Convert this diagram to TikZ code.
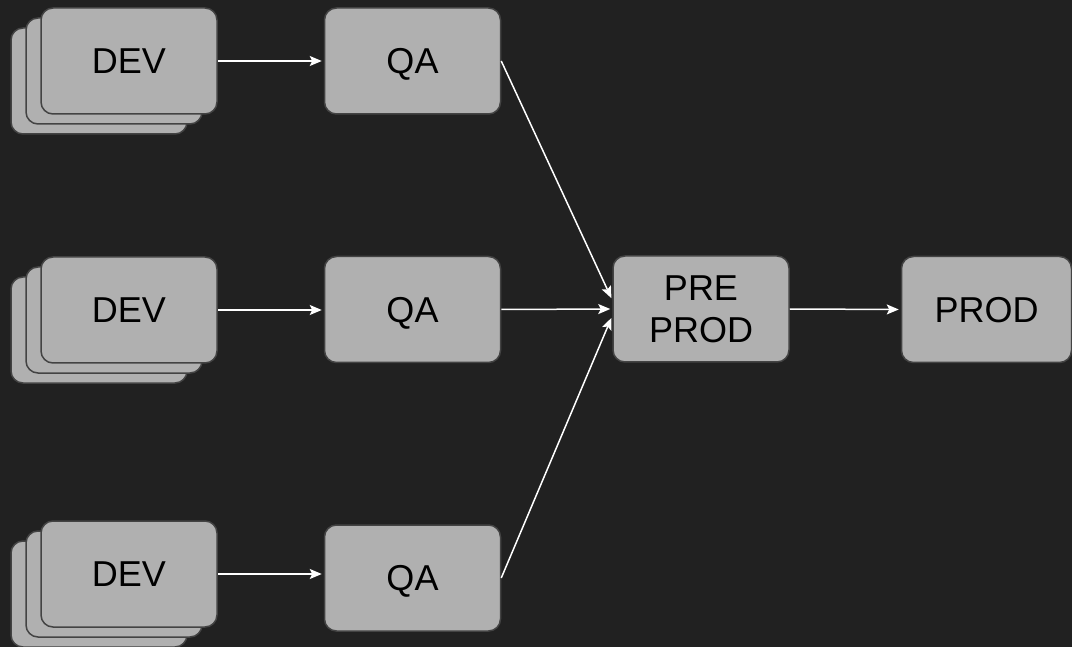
\documentclass[tikz,border=0pt]{standalone}
\usepackage{fontspec}
\setmainfont{Liberation Sans}
\usetikzlibrary{arrows.meta}
\definecolor{bg}{HTML}{212121}
\definecolor{boxfill}{HTML}{B0B0B0}
\definecolor{boxline}{HTML}{434343}
\begin{document}
\begin{tikzpicture}[x=1pt,y=-1pt,
  stage/.style={draw=boxline, fill=boxfill, line width=1.5pt, rounded corners=12pt,
    minimum width=176pt, minimum height=106pt, inner sep=0pt, align=center,
    font=\fontsize{36}{42}\selectfont, text=black},
  capsonly/.style={text height=25.8pt, text depth=0pt},
  flow/.style={draw=white, line width=1.5pt, shorten >=2pt,
    -{Stealth[length=12pt,width=10pt,inset=2.5pt]}}]
  \fill[bg] (0,0) rectangle (1072,647);
  \useasboundingbox (0,0) rectangle (1072,647);

  % stacked DEV boxes: three layers, the front one carries the label
  \foreach \r/\cy in {1/61, 2/310, 3/574} {
    \node[stage] (devb\r) at (99,\cy+20) {};
    \node[stage] (devm\r) at (114,\cy+10) {};
    \node[stage, capsonly] (dev\r) at (129,\cy) {DEV};
  }

  \node[stage, capsonly] (qa1) at (412.5,61) {QA};
  \node[stage, capsonly] (qa2) at (412.5,309.5) {QA};
  \node[stage, capsonly] (qa3) at (412.5,578) {QA};

  \node[stage] (pre) at (701,309) {PRE\\PROD};
  \node[stage, capsonly, minimum width=170pt] (prod) at (986.5,309.5) {PROD};

  \draw[flow] (dev1.east) -- (dev1.east -| qa1.west);
  \draw[flow] (dev2.east) -- (dev2.east -| qa2.west);
  \draw[flow] (dev3.east) -- (dev3.east -| qa3.west);

  \draw[flow] (qa1.east) -- ([yshift=9pt]pre.west);
  \draw[flow] (qa2.east) -- (pre.west);
  \draw[flow] (qa3.east) -- ([yshift=-7pt]pre.west);

  \draw[flow] (pre.east) -- (prod.west);
\end{tikzpicture}
\end{document}
